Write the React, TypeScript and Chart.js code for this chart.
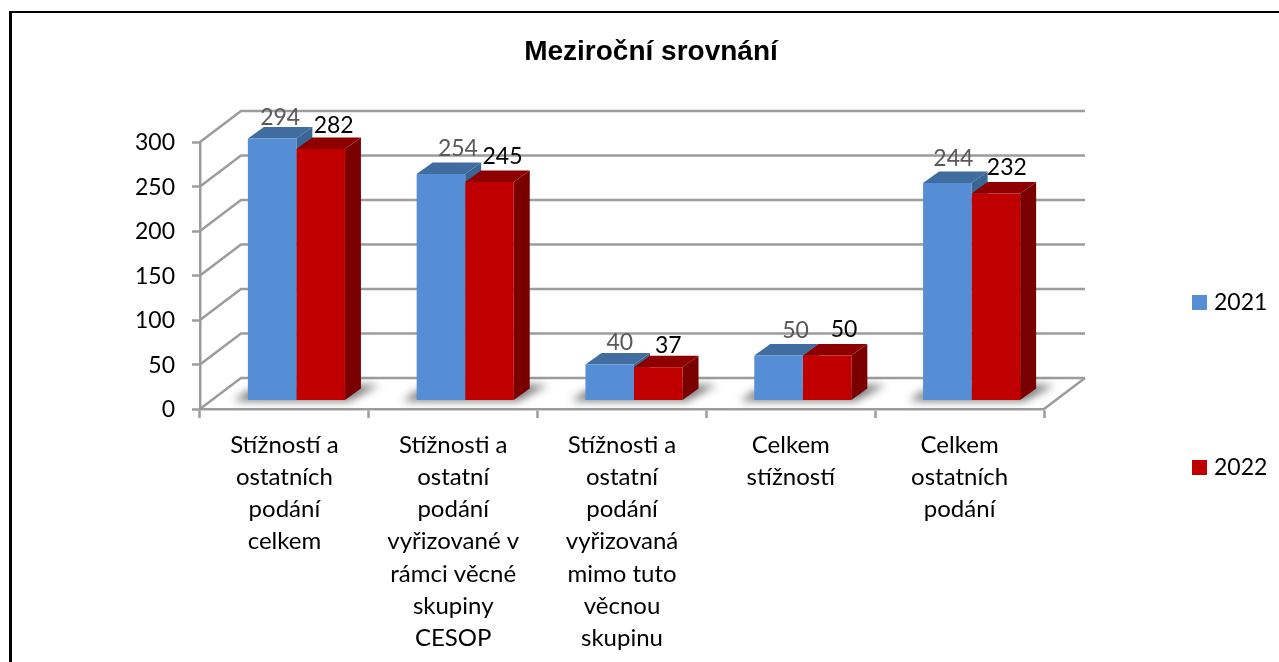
import React, { useEffect, useRef } from "react";
import { Chart, registerables } from "chart.js";

Chart.register(...registerables);

const categories: string[][] = [
  ["Stížností a", "ostatních", "podání", "celkem"],
  ["Stížnosti a", "ostatní", "podání", "vyřizované v", "rámci věcné", "skupiny", "CESOP"],
  ["Stížnosti a", "ostatní", "podání", "vyřizovaná", "mimo tuto", "věcnou", "skupinu"],
  ["Celkem", "stížností"],
  ["Celkem", "ostatních", "podání"],
];
const values2021 = [294, 254, 40, 50, 244];
const values2022 = [282, 245, 37, 50, 232];
const yTickStep = 50;

const FONT = "Lato";
const GRID = "#9C9C9C";
const WALL = { dx: 41, dy: -31 };
const BAR_DEPTH = { dx: 16, dy: -11.5 };
const BAR_SHIFT = 12;
const sideColors = [
  { top: "#416C9F", side: "#3A6695", label: "#595959", nudge: [8, 17, 10, 17, 6], lift: [21, 25, 22, 25, 24] },
  { top: "#8E0000", side: "#7A0000", label: "#000000", nudge: [13, 13, 10, 17, 11], lift: [24, 25, 22, 26, 26] },
];

const poly = (ctx: CanvasRenderingContext2D, pts: number[][], fill: string) => {
  ctx.beginPath();
  pts.forEach(([x, y], i) => (i ? ctx.lineTo(x, y) : ctx.moveTo(x, y)));
  ctx.closePath();
  ctx.fillStyle = fill;
  ctx.fill();
};

const threeD = {
  id: "threeD",
  beforeDatasetsDraw(chart: any) {
    const { ctx, scales } = chart;
    const yS = scales.y;
    const xS = scales.x;
    ctx.save();
    ctx.strokeStyle = GRID;
    ctx.lineWidth = 2.5;
    yS.ticks.forEach((t: any) => {
      const y = yS.getPixelForValue(t.value);
      ctx.beginPath();
      ctx.moveTo(xS.left, y);
      ctx.lineTo(xS.left + WALL.dx, y + WALL.dy);
      ctx.lineTo(xS.right + WALL.dx, y + WALL.dy);
      ctx.stroke();
    });
    const y0 = yS.getPixelForValue(0);
    ctx.beginPath();
    ctx.moveTo(xS.right, y0);
    ctx.lineTo(xS.right + WALL.dx, y0 + WALL.dy);
    ctx.stroke();
    ctx.restore();

    // floor shadows of the bar groups
    const a = chart.getDatasetMeta(0).data;
    const b = chart.getDatasetMeta(1).data;
    ctx.save();
    ctx.filter = "blur(4px)";
    a.forEach((el: any, i: number) => {
      const left = el.x - el.width / 2 + BAR_SHIFT;
      const right = b[i].x + b[i].width / 2 + BAR_SHIFT;
      const base = el.base;
      poly(ctx, [[left - 14, base + 1], [right + 4, base + 1], [right + 34, base - 15], [right + 14, base - 15], [left, base - 9]], "rgba(85,85,85,0.8)");
    });
    ctx.restore();

    // side and top faces, 2021 first so that 2022 sits in front of it
    ctx.save();
    ctx.translate(BAR_SHIFT, 0);
    [0, 1].forEach((k) => {
      const c = sideColors[k];
      chart.getDatasetMeta(k).data.forEach((el: any) => {
        const l = el.x - el.width / 2;
        const r = el.x + el.width / 2;
        const { dx, dy } = BAR_DEPTH;
        poly(ctx, [[l, el.y], [l + dx, el.y + dy], [r + dx, el.y + dy], [r, el.y]], c.top);
        poly(ctx, [[r, el.y], [r + dx, el.y + dy], [r + dx, el.base + dy], [r, el.base]], c.side);
      });
    });
    ctx.restore();
  },
  beforeDatasetDraw(chart: any) {
    chart.ctx.save();
    chart.ctx.translate(BAR_SHIFT, 0);
  },
  afterDatasetDraw(chart: any) {
    chart.ctx.restore();
  },
  afterDatasetsDraw(chart: any) {
    const { ctx } = chart;
    ctx.save();
    ctx.font = `23px ${FONT}`;
    ctx.textAlign = "center";
    ctx.textBaseline = "middle";
    chart.data.datasets.forEach((ds: any, k: number) => {
      const c = sideColors[k];
      chart.getDatasetMeta(k).data.forEach((el: any, i: number) => {
        ctx.fillStyle = c.label;
        ctx.fillText(String(ds.data[i]), el.x + BAR_SHIFT + c.nudge[i], el.y - c.lift[i]);
      });
    });
    ctx.restore();
  },
  afterDraw(chart: any) {
    const { ctx } = chart;
    const rows = [295, 460];
    ctx.save();
    ctx.font = `23px ${FONT}`;
    ctx.textBaseline = "middle";
    ctx.textAlign = "left";
    chart.data.datasets.forEach((ds: any, k: number) => {
      ctx.fillStyle = ds.backgroundColor;
      ctx.fillRect(1192, rows[k], 15, 15);
      ctx.fillStyle = "#000";
      ctx.fillText(ds.label, 1214, rows[k] + 8);
    });
    ctx.restore();
  },
};

export default function App() {
  const ref = useRef<HTMLCanvasElement>(null);
  useEffect(() => {
    const chart = new Chart(ref.current as HTMLCanvasElement, {
      type: "bar",
      data: {
        labels: categories as any,
        datasets: [
          { label: "2021", data: values2021, backgroundColor: "#558ED5", yAxisID: "yBars", clip: false as any, barPercentage: 1, categoryPercentage: 0.575 },
          { label: "2022", data: values2022, backgroundColor: "#C00000", yAxisID: "yBars", clip: false as any, barPercentage: 1, categoryPercentage: 0.575 },
        ],
      },
      options: {
        responsive: false,
        animation: false,
        layout: { padding: { left: 23, right: 0, top: 0, bottom: 0 } },
        plugins: {
          legend: { display: false },
          tooltip: { enabled: false },
          title: {
            display: true,
            text: "Meziroční srovnání",
            color: "#000",
            font: { family: "Liberation Sans", size: 28, weight: "bold", lineHeight: 1.2 },
            padding: { top: 35, bottom: 73.4 },
          },
        },
        scales: {
          x: {
            type: "category",
            grid: { drawOnChartArea: false, tickLength: 9, tickWidth: 2.5, tickColor: GRID },
            border: { color: GRID, width: 2.5 },
            ticks: {
              color: "#000",
              autoSkip: false,
              maxRotation: 0,
              minRotation: 0,
              padding: 11,
              font: { family: FONT, size: 24, lineHeight: 1.342 },
            },
            afterFit: (s: any) => { s.height = 253; },
          },
          y: {
            type: "linear",
            min: 0,
            max: 300,
            position: "left",
            grid: { drawOnChartArea: false, tickLength: 8, tickWidth: 2.5, tickColor: GRID },
            border: { color: GRID, width: 2.5 },
            ticks: { stepSize: yTickStep, color: "#000", padding: 17, labelOffset: 1, font: { family: FONT, size: 23 } },
            afterFit: (s: any) => { s.width = 177; },
          },
          yBars: {
            type: "linear",
            axis: "y",
            position: "right",
            min: -10,
            max: 290,
            grid: { display: false },
            border: { display: false },
            ticks: { display: false },
            afterFit: (s: any) => { s.width = 235; },
          } as any,
        },
      },
      plugins: [threeD as any],
    });
    return () => chart.destroy();
  }, []);
  return (
    <>
      <canvas ref={ref} width={1279} height={662} style={{ position: "fixed", left: 0, top: 0, background: "#fff" }} />
      <div style={{ position: "fixed", left: 9, top: 11, right: 0, bottom: 0, borderLeft: "3px solid #000", borderTop: "2px solid #000", pointerEvents: "none" }} />
    </>
  );
}
